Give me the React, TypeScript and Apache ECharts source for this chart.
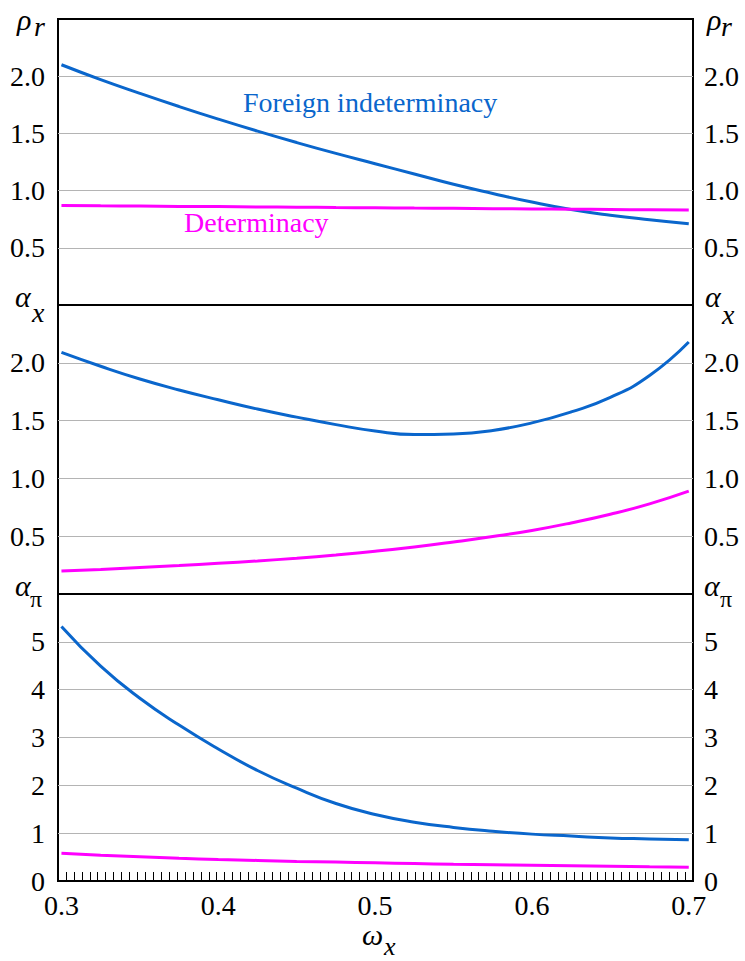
import React, { useEffect, useRef } from "react";
import * as echarts from "echarts";

const xValues = [0.3, 0.325, 0.35, 0.375, 0.4, 0.425, 0.45, 0.475, 0.5, 0.525, 0.55, 0.575, 0.6, 0.625, 0.65, 0.675, 0.7];

// Panel 1: rho_r
const rhoForeign = [2.10, 1.97, 1.85, 1.735, 1.625, 1.52, 1.42, 1.325, 1.235, 1.145, 1.055, 0.975, 0.90, 0.835, 0.785, 0.745, 0.71];
const rhoDeterm = [0.87, 0.867, 0.865, 0.862, 0.86, 0.857, 0.855, 0.852, 0.85, 0.847, 0.845, 0.842, 0.84, 0.837, 0.835, 0.832, 0.83];

// Panel 2: alpha_x
const axForeign = [2.09, 1.97, 1.86, 1.765, 1.68, 1.60, 1.53, 1.465, 1.41, 1.38, 1.385, 1.415, 1.48, 1.575, 1.70, 1.89, 2.18];
const axDeterm = [0.2, 0.213, 0.23, 0.246, 0.265, 0.286, 0.31, 0.338, 0.37, 0.407, 0.45, 0.497, 0.55, 0.615, 0.69, 0.78, 0.89];

// Panel 3: alpha_pi
const apForeign = [5.32, 4.49, 3.82, 3.26, 2.76, 2.31, 1.94, 1.62, 1.39, 1.23, 1.12, 1.04, 0.98, 0.94, 0.90, 0.88, 0.86];
const apDeterm = [0.58, 0.54, 0.505, 0.475, 0.45, 0.43, 0.41, 0.395, 0.38, 0.365, 0.35, 0.34, 0.33, 0.32, 0.31, 0.3, 0.29];

const xTickLabels = [0.3, 0.4, 0.5, 0.6, 0.7];
const yLabels12 = [0.5, 1.0, 1.5, 2.0];
const yLabels3 = [0, 1, 2, 3, 4, 5];

const X_MIN = 0.2978;
const X_MAX = 0.7027;
const BLUE = "#0a66cc";
const MAGENTA = "#ff00ff";
const FONT = "Liberation Serif";

const pair = (ys: number[]) => xValues.map((x, i) => [x, ys[i]]);

export default function App() {
  const ref = useRef<HTMLDivElement>(null);
  useEffect(() => {
    if (!ref.current) return;
    const chart = echarts.init(ref.current, undefined, { renderer: "svg" });

    const tickVals: number[] = [];
    for (let k = 1; k < 80; k++) tickVals.push(X_MIN + (k * (X_MAX - X_MIN)) / 80);

    const grids = [
      { left: 58, right: 52, top: 19, height: 286 },
      { left: 58, right: 52, top: 305, height: 289 },
      { left: 58, right: 52, top: 594, height: 287 },
    ].map((g) => ({ ...g, show: true, borderColor: "#000", borderWidth: 2, backgroundColor: "transparent" }));

    const xAxes = [0, 1, 2].map((i) => ({
      type: "value",
      gridIndex: i,
      min: X_MIN,
      max: X_MAX,
      axisLine: { show: false },
      splitLine: { show: false },
      axisTick:
        i === 2
          ? { show: true, inside: true, length: 9, customValues: tickVals, lineStyle: { color: "#000", width: 1 } }
          : { show: false },
      axisLabel:
        i === 2
          ? {
              show: true,
              customValues: xTickLabels,
              margin: 10,
              formatter: (v: number) => v.toFixed(1),
              fontFamily: FONT,
              fontSize: 28,
              color: "#000",
            }
          : { show: false },
    }));

    const mkY = (gi: number, pos: "left" | "right", third: boolean) => ({
      type: "value",
      gridIndex: gi,
      position: pos,
      min: 0,
      max: third ? 6 : 2.5,
      interval: third ? 1 : 0.5,
      axisLine: { show: false },
      axisTick: { show: false },
      splitLine:
        pos === "left"
          ? { show: true, showMinLine: false, showMaxLine: false, lineStyle: { color: "#b4b4b4", width: 1 } }
          : { show: false },
      axisLabel: {
        show: true,
        customValues: third ? yLabels3 : yLabels12,
        margin: pos === "left" ? 13 : 11,
        formatter: (v: number) => (third ? String(v) : v.toFixed(1)),
        fontFamily: FONT,
        fontSize: 28,
        color: "#000",
      },
    });

    const yAxes = [mkY(0, "left", false), mkY(0, "right", false), mkY(1, "left", false), mkY(1, "right", false), mkY(2, "left", true), mkY(2, "right", true)];

    const line = (name: string, data: number[], color: string, gi: number) => ({
      type: "line",
      name,
      xAxisIndex: gi,
      yAxisIndex: gi * 2,
      data: pair(data),
      smooth: 0.5,
      showSymbol: false,
      symbol: "none",
      lineStyle: { color, width: 3 },
      z: 5,
    });

    const series = [
      line("Foreign indeterminacy", rhoForeign, BLUE, 0),
      line("Determinacy", rhoDeterm, MAGENTA, 0),
      line("Foreign indeterminacy", axForeign, BLUE, 1),
      line("Determinacy", axDeterm, MAGENTA, 1),
      line("Foreign indeterminacy", apForeign, BLUE, 2),
      line("Determinacy", apDeterm, MAGENTA, 2),
    ];

    const txt = (text: string, x: number, baseline: number, size: number, italic: boolean, fill = "#000") => ({
      type: "text",
      x,
      y: baseline - 0.89 * size,
      silent: true,
      style: {
        text,
        fill,
        font: `${italic ? "italic " : ""}${size}px ${FONT}`,
      },
    });

    const graphic = [
      // rho_r
      txt("ρ", 17, 31.5, 30, true),
      txt("r", 34, 37, 28, true),
      txt("ρ", 707, 31.5, 30, true),
      txt("r", 721, 37, 28, true),
      // alpha_x
      txt("α", 15, 308, 30, true),
      txt("x", 32, 323, 28, true),
      txt("α", 705, 308, 30, true),
      txt("x", 722, 325, 28, true),
      // alpha_pi
      txt("α", 15, 597, 30, true),
      txt("π", 30, 608, 24, false),
      txt("α", 704, 597, 30, true),
      txt("π", 720, 608, 24, false),
      // omega_x
      txt("ω", 362, 946, 30, true),
      txt("x", 384, 957, 26, true),
      // curve labels
      txt("Foreign indeterminacy", 243, 113, 28, false, BLUE),
      txt("Determinacy", 184, 233, 28, false, MAGENTA),
    ];

    chart.setOption({
      animation: false,
      backgroundColor: "#fff",
      textStyle: { fontFamily: FONT },
      grid: grids,
      xAxis: xAxes,
      yAxis: yAxes,
      series,
      graphic,
    });
    return () => chart.dispose();
  }, []);
  return <div ref={ref} style={{ position: "absolute", left: 0, top: 0, width: 745, height: 961 }} />;
}
